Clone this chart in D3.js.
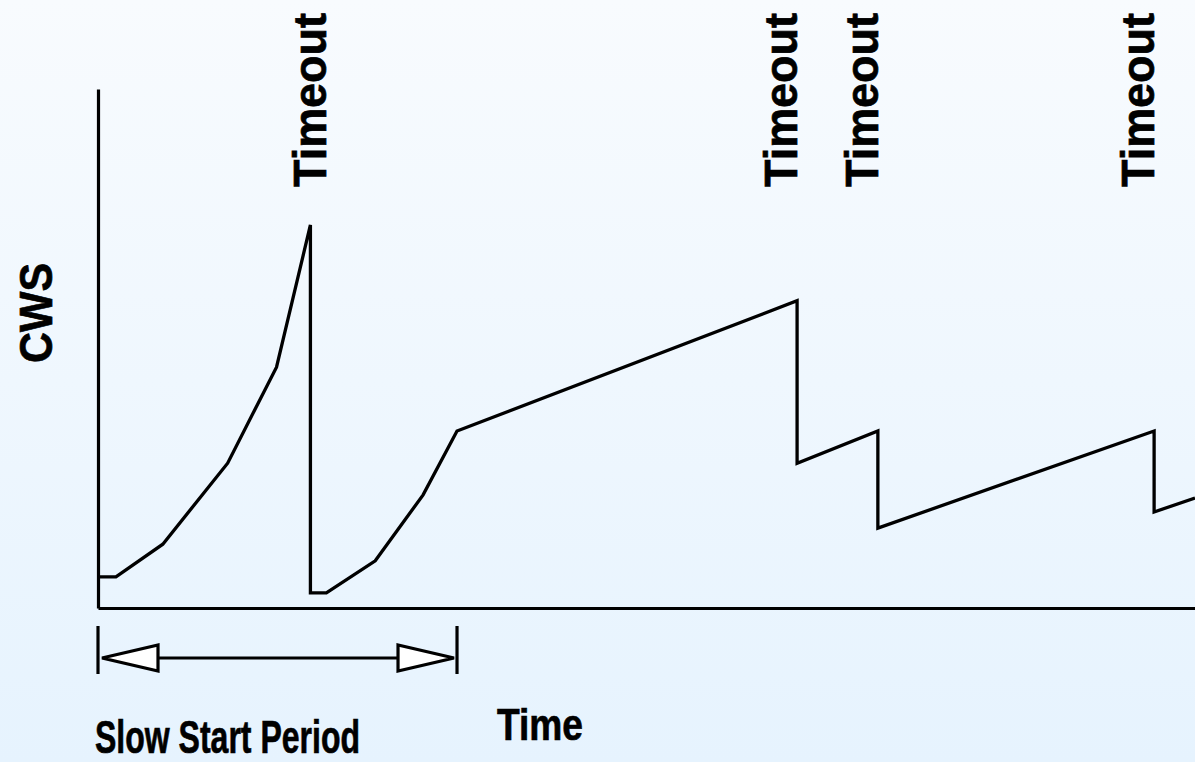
<!DOCTYPE html>
<html>
<head>
<meta charset="utf-8">
<script src="https://cdn.jsdelivr.net/npm/d3@7"></script>
<style>
  html, body { margin: 0; padding: 0; }
  body { width: 1195px; height: 762px; overflow: hidden; }
  text { font-family: "Liberation Sans", Arial, Helvetica, sans-serif; font-weight: bold; fill: #000; stroke: #000; stroke-width: 0.7px; }
</style>
</head>
<body>
<div id="chart"></div>
<script>
// congestion window over time (arbitrary units)
const time = [0, 1.8, 6.5, 13.0, 17.9, 21.3, 21.3, 22.9, 27.8, 32.6, 36.0, 70.1, 70.1, 78.2, 78.2, 105.9, 105.9, 110];
const cws  = [6.0, 6.0, 12.3, 27.9, 46.4, 73.8, 2.9, 2.9, 9.1, 21.8, 34.1, 59.2, 27.9, 34.1, 15.4, 34.1, 18.5, 21.2];
// where the "Timeout" labels sit (time units, text baseline)
const timeoutLabelAt = [22.9, 70.1, 78.2, 105.9];
const slowStart = [0, 36.0];

const width = 1195, height = 762;
const margin = { top: 89, right: 0, bottom: 154, left: 98 };

const svg = d3.select("#chart").append("svg")
    .attr("width", width)
    .attr("height", height);

const grad = svg.append("defs").append("linearGradient")
    .attr("id", "bg").attr("x1", 0).attr("y1", 0).attr("x2", 0).attr("y2", 1);
grad.append("stop").attr("offset", "0%").attr("stop-color", "#f8fbfe");
grad.append("stop").attr("offset", "100%").attr("stop-color", "#e6f3fe");

svg.append("rect").attr("width", width).attr("height", height).attr("fill", "url(#bg)");

const x = d3.scaleLinear().domain([0, 110]).range([margin.left, width - margin.right]);
const y = d3.scaleLinear().domain([0, 100]).range([height - margin.bottom, margin.top]);

// axes: plain lines, no ticks
svg.append("g")
    .attr("class", "axis")
    .attr("transform", `translate(0,${y(0)})`)
    .call(d3.axisBottom(x).ticks(0).tickSizeOuter(0));
svg.append("g")
    .attr("class", "axis")
    .attr("transform", `translate(${x(0)},0)`)
    .call(d3.axisLeft(y).ticks(0).tickSizeOuter(0));
svg.selectAll(".axis path").attr("stroke", "#000").attr("stroke-width", 3.2);

const pts = time.map((t, i) => [t, cws[i]]);
const line = d3.line().x(d => x(d[0])).y(d => y(d[1]));

svg.append("path")
    .datum(pts)
    .attr("d", line)
    .attr("fill", "none")
    .attr("stroke", "#000")
    .attr("stroke-width", 3.3)
    .attr("stroke-linejoin", "miter");

// timeout labels
svg.selectAll(".timeout")
    .data(timeoutLabelAt)
    .enter().append("text")
    .attr("class", "timeout")
    .attr("transform", d => `translate(${x(d)},187) rotate(-90)`)
    .attr("font-size", 46)
    .attr("textLength", 174)
    .attr("lengthAdjust", "spacingAndGlyphs")
    .text("Timeout");

// slow start period marker
const ay = 658;
const x0 = x(slowStart[0]), x1 = x(slowStart[1]);
svg.selectAll(".tick-end")
    .data([x0, x1])
    .enter().append("line")
    .attr("x1", d => d).attr("x2", d => d)
    .attr("y1", 626).attr("y2", 674)
    .attr("stroke", "#000").attr("stroke-width", 3.2);
svg.append("line")
    .attr("x1", x0 + 56).attr("x2", x1 - 57)
    .attr("y1", ay).attr("y2", ay)
    .attr("stroke", "#000").attr("stroke-width", 3.2);
svg.append("path")
    .attr("d", `M${x0 + 4},${ay} L${x0 + 60},${ay - 13} L${x0 + 60},${ay + 13} Z`)
    .attr("fill", "#fff").attr("stroke", "#000").attr("stroke-width", 3.2);
svg.append("path")
    .attr("d", `M${x1 - 3},${ay} L${x1 - 59},${ay - 13} L${x1 - 59},${ay + 13} Z`)
    .attr("fill", "#fff").attr("stroke", "#000").attr("stroke-width", 3.2);

// titles
svg.append("text")
    .attr("transform", "translate(52,313) rotate(-90)")
    .attr("text-anchor", "middle")
    .attr("font-size", 46)
    .attr("textLength", 100)
    .attr("lengthAdjust", "spacingAndGlyphs")
    .text("CWS");

svg.append("text")
    .attr("x", 497).attr("y", 740)
    .attr("font-size", 45)
    .attr("textLength", 86)
    .attr("lengthAdjust", "spacingAndGlyphs")
    .text("Time");

svg.append("text")
    .attr("x", 95).attr("y", 753)
    .attr("font-size", 46)
    .attr("textLength", 265)
    .attr("lengthAdjust", "spacingAndGlyphs")
    .text("Slow Start Period");
</script>
</body>
</html>
